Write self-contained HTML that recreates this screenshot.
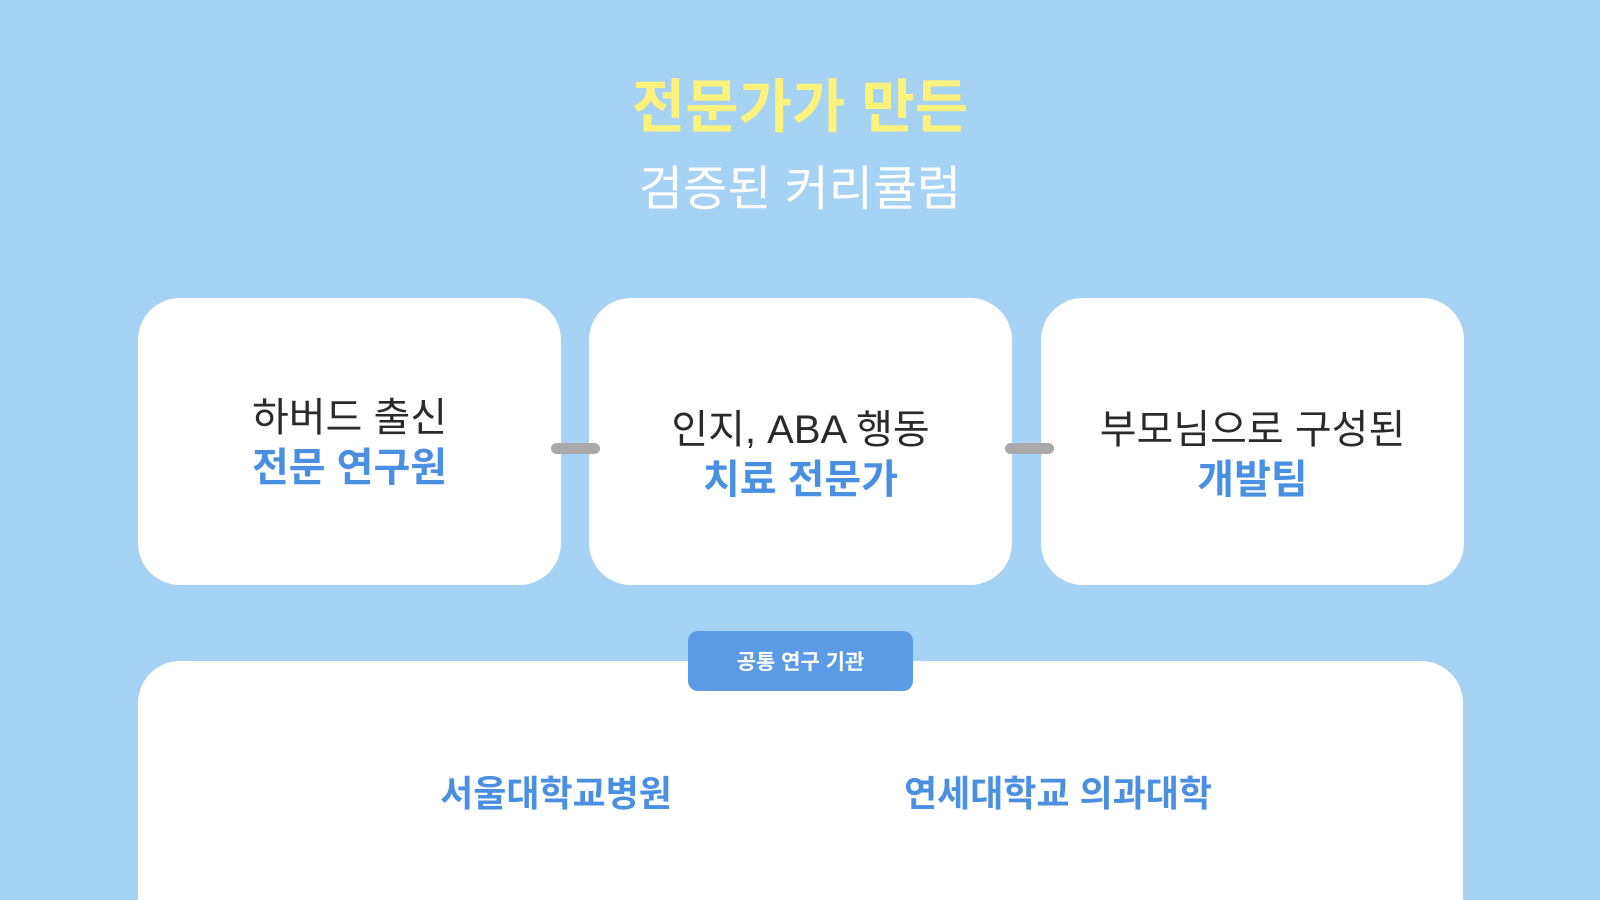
<!DOCTYPE html>
<html><head><meta charset="utf-8"><style>
html,body{margin:0;padding:0;width:1600px;height:900px;overflow:hidden}
body{background:#a6d2f3;position:relative;font-family:"Liberation Sans","Noto Sans CJK KR",sans-serif}
.t{position:absolute;left:0;width:1600px;text-align:center;line-height:1}
.box{position:absolute;top:298px;height:287px;width:423px;background:#fff;border-radius:42px;display:flex;flex-direction:column;justify-content:center;align-items:center;text-align:center;box-sizing:border-box}
.l1{font-size:40px;color:#2a2a2a;line-height:50px}
.l2{font-size:40px;color:#4a90e2;font-weight:bold;line-height:50px}
.conn{position:absolute;height:11px;background:#a9a9a9;border-radius:6px;top:443px;width:49px}
.bot{position:absolute;left:138px;width:1325px;top:661px;height:239px;background:#fff;border-radius:42px 42px 0 0}
.badge{position:absolute;left:688px;top:631px;width:225px;height:60px;background:#5b9be6;border-radius:10px;color:#fff;font-size:21px;font-weight:bold;display:flex;align-items:center;justify-content:center}
.bt{position:absolute;top:776px;font-size:36px;color:#4a8fe0;font-weight:bold;line-height:1;white-space:nowrap;transform:translateX(-50%)}
</style></head><body>
<div class="t" style="top:79px;font-size:58px;font-weight:bold;color:#fff27a">전문가가 만든</div>
<div class="t" style="top:166px;font-size:48px;color:#fff">검증된 커리큘럼</div>

<div class="box" style="left:138px;padding-top:2px"><div class="l1">하버드 출신</div><div class="l2">전문 연구원</div></div>
<div class="box" style="left:589px;padding-top:26px"><div class="l1">인지, ABA 행동</div><div class="l2">치료 전문가</div></div>
<div class="box" style="left:1041px;padding-top:26px"><div class="l1">부모님으로 구성된</div><div class="l2">개발팀</div></div>
<div class="conn" style="left:551px"></div>
<div class="conn" style="left:1005px"></div>

<div class="bot"></div>
<div class="badge">공통 연구 기관</div>
<div class="bt" style="left:556px">서울대학교병원</div>
<div class="bt" style="left:1058px">연세대학교 의과대학</div>
</body></html>
